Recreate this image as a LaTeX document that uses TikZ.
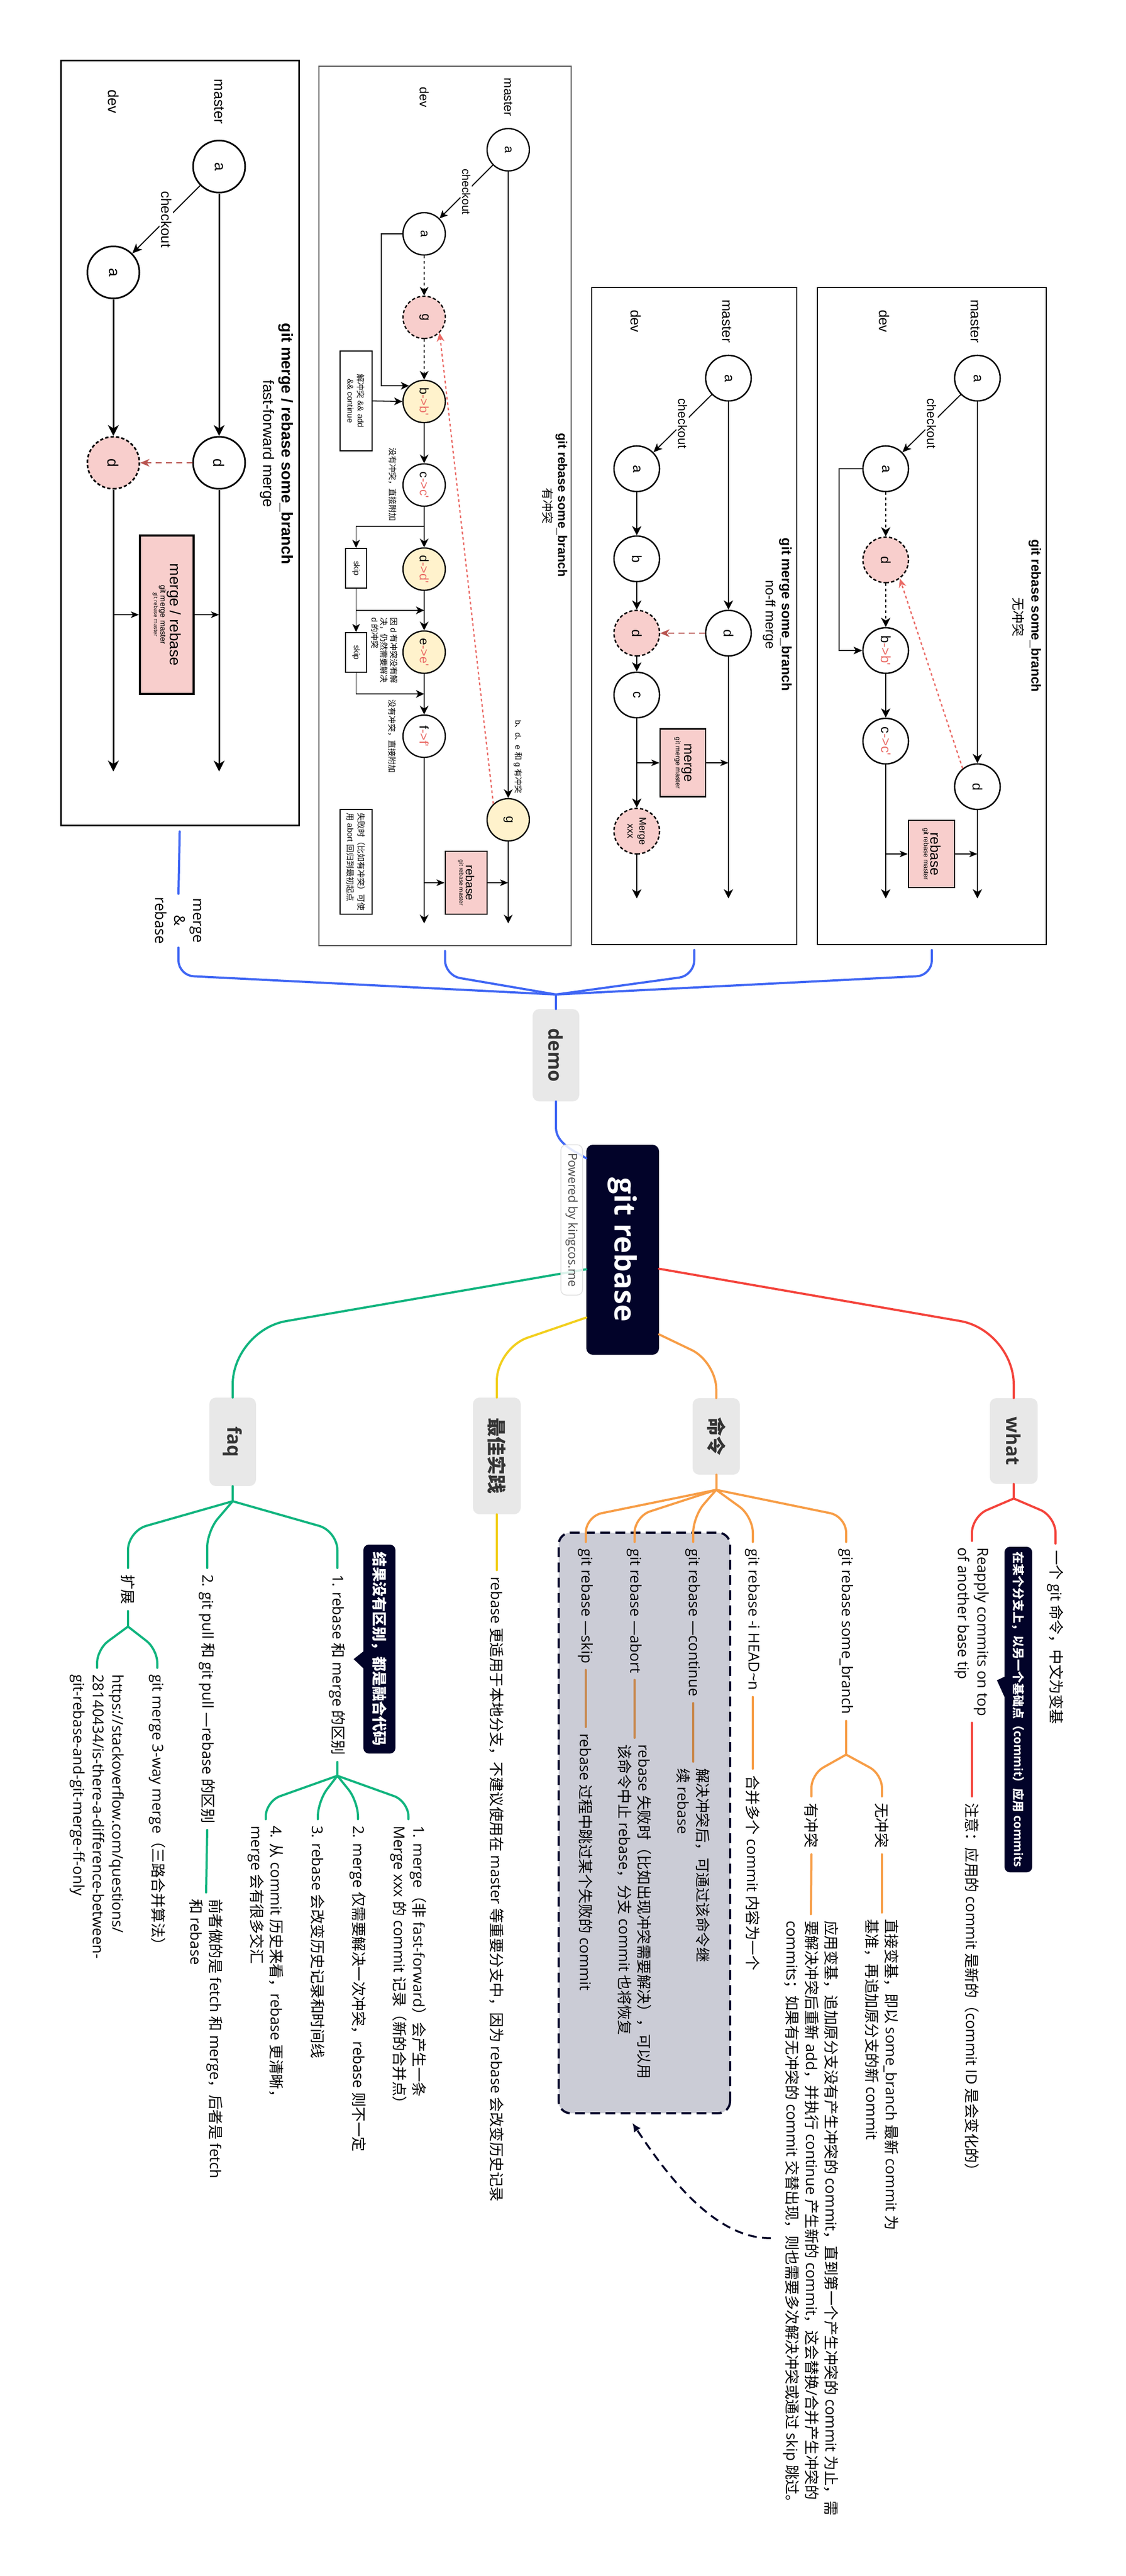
\documentclass[tikz,border=0pt]{standalone}
\usepackage{fontspec}
\setmainfont{Open Sans}
\newfontfamily\arialf{Liberation Sans}
\newfontfamily\cjkf{Noto Sans CJK SC}
\usetikzlibrary{arrows.meta,calc}
\let\curlatin\rmfamily
\newcommand\cjkswitch{\cjkf}
\newcommand\latinswitch{\curlatin}
\newXeTeXintercharclass\cjkcls
\newcount\cjkcnt
\newcommand\setcjkrange[2]{%
  \cjkcnt=#1\relax
  \loop
    \XeTeXcharclass\cjkcnt=\cjkcls\relax
  \ifnum\cjkcnt<#2\relax
    \advance\cjkcnt by 1\relax
  \repeat}
\setcjkrange{"3000}{"303F}
\setcjkrange{"4E00}{"9FFF}
\setcjkrange{"FF00}{"FFEF}
\XeTeXinterchartoks 0 \cjkcls = {\cjkswitch}
\XeTeXinterchartoks 4095 \cjkcls = {\cjkswitch}
\XeTeXinterchartoks \cjkcls 0 = {\latinswitch}
\XeTeXinterchartoks \cjkcls 4095 = {\latinswitch}
\XeTeXinterchartokenstate=1
\newcommand\afs[2]{\let\curlatin\arialf\arialf\fontsize{#1}{#2}\selectfont}
\newcommand\mfs[2]{\fontsize{#1}{#2}\selectfont}
\definecolor{mmblue}{HTML}{3F66F4}
\definecolor{mmred}{HTML}{F4433B}
\definecolor{mmorange}{HTML}{F79D46}
\definecolor{mmyellow}{HTML}{F2CF1D}
\definecolor{mmgreen}{HTML}{10B47E}
\definecolor{navy}{HTML}{020329}
\definecolor{ngray}{HTML}{E8E8E8}
\definecolor{tgray}{HTML}{333333}
\definecolor{bfill}{HTML}{CBCCD6}
\definecolor{brownl}{HTML}{C8874B}
\definecolor{pinkf}{HTML}{F8CECC}
\definecolor{yelf}{HTML}{FFF2CC}
\definecolor{darkred}{HTML}{B85450}
\definecolor{lred}{HTML}{EA6B66}
\definecolor{fgray}{HTML}{5A5A5A}
\tikzset{
  mml/.style={line width=4pt, line cap=round, line join=round},
  bnode/.style={fill=ngray, rounded corners=12pt, text=tgray, inner sep=0pt, font={\bfseries\mfs{35}{40}}},
  rootnode/.style={fill=navy, rounded corners=12pt, text=white, inner sep=0pt, font={\bfseries\mfs{54}{60}}},
  mt/.style={anchor=west, align=left, inner xsep=12pt, inner ysep=3pt, font={\mfs{27.5}{36}}},
  callbox/.style={fill=navy, text=white, rounded corners=10pt, inner sep=0pt},
  frame1/.style={draw=black, line width=3pt, inner sep=0pt},
  frame2/.style={draw=fgray, line width=2pt, inner sep=0pt},
  frame3/.style={draw=black, line width=2.2pt, inner sep=0pt},
  c1/.style={circle, draw, line width=3pt, minimum size=96pt, inner sep=0pt, fill=white, font={\afs{28}{32}}},
  c2/.style={circle, draw, line width=2.4pt, minimum size=78pt, inner sep=0pt, fill=white, font={\afs{23}{27}}},
  c3/.style={circle, draw, line width=2.6pt, minimum size=84pt, inner sep=0pt, fill=white, font={\afs{25}{29}}},
  pinkd/.style={fill=pinkf, dash pattern=on 6pt off 4pt},
  yel/.style={fill=yelf},
  a1/.style={line width=3pt, -{Stealth[length=20pt,width=20pt,inset=6pt]}},
  a1c/.style={line width=2pt, -{Stealth[length=18pt,width=16pt,inset=5pt]}},
  a2/.style={line width=2.4pt, -{Stealth[length=16pt,width=16pt,inset=5pt]}},
  a2c/.style={line width=1.8pt, -{Stealth[length=15pt,width=14pt,inset=4pt]}},
  a3/.style={line width=2.6pt, -{Stealth[length=17pt,width=17pt,inset=5pt]}},
  a3c/.style={line width=1.9pt, -{Stealth[length=16pt,width=14pt,inset=4pt]}},
  asm/.style={line width=1.6pt, -{Stealth[length=15pt,width=12pt,inset=4pt]}},
  dotln/.style={dash pattern=on 5pt off 5pt},
  rd1/.style={draw=darkred, line width=2pt, dash pattern=on 11pt off 8pt, -{Stealth[length=17pt,width=14pt,inset=5pt]}},
  rd2/.style={draw=lred, line width=2.4pt, dash pattern=on 5pt off 5pt, -{Stealth[length=16pt,width=14pt,inset=5pt]}},
  lblw/.style={fill=white, inner sep=3pt},
  sbox/.style={draw, line width=2pt, fill=white, inner sep=0pt},
  mbox/.style={draw, fill=pinkf, inner sep=0pt, align=center},
}
\begin{document}
\begin{tikzpicture}[x=1pt,y=1pt]
\begin{scope}[rotate=-90, transform shape]
\fill[white] (0,0) rectangle (4748,2076);
\useasboundingbox (0,0) rectangle (4748,2076);

%%%%%%%%%%%%%%%% BOX 1 : fast-forward
\node[frame1, minimum width=1409pt, minimum height=439pt] (F1) at (816.5,331.5) {};
\node[font={\afs{27}{30}}] (L1m) at (187,404) {master};
\node[font={\afs{27}{30}}] (L1d) at (187,209) {dev};
\node[c1] (A1m) at (307,404) {a};
\node[c1] (A1d) at (502,209) {a};
\node[c1] (D1m) at (853,404) {d};
\node[c1, pinkd] (D1d) at (853,209) {d};
\coordinate (E1m) at (1422,404);
\coordinate (E1d) at (1422,209);
\node[mbox, line width=3.5pt, minimum width=292pt, minimum height=99pt] (MB1) at (1133,307.5)
  {\afs{28}{31}merge / rebase\\\afs{14.5}{19}git merge master\\git rebase master};
\coordinate (J1d) at (1133,209);
\coordinate (J1m) at (1133,404);
\node[font={\bfseries\afs{29}{33}}] (T1) at (818,527) {git merge / rebase some\_branch};
\node[font={\afs{28}{32}}] (S1) at (818,493) {fast-forward merge};
\draw[a1c] (A1m) -- node[lblw, font={\afs{26}{30}}] {checkout} (A1d);
\draw[a1] (A1m) -- (D1m);
\draw[a1] (A1d) -- (D1d);
\draw[a1] (D1m) -- (E1m);
\draw[a1] (D1d) -- (E1d);
\draw[rd1] (D1m) -- (D1d);
\draw[asm] (J1d) -- (MB1.south);
\draw[asm] (MB1.north) -- (J1m);

%%%%%%%%%%%%%%%% BOX 2 : rebase with conflicts
\node[frame2, minimum width=1621pt, minimum height=465pt] (F2) at (932.5,820.5) {};
\node[font={\afs{23}{27}}] (L2m) at (179,937) {master};
\node[font={\afs{23}{27}}] (L2d) at (179,782) {dev};
\node[c2] (A2m) at (276,937) {a};
\node[c2] (A2d) at (431,782) {a};
\node[c2, pinkd] (G2) at (585,782) {g};
\node[c2, yel] (B2) at (740,782) {b\textcolor{lred}{->b'}};
\node[c2] (C2) at (894,782) {c\textcolor{lred}{->c'}};
\node[c2, yel] (D2) at (1049,782) {d\textcolor{lred}{->d'}};
\node[c2, yel] (E2) at (1202,782) {e\textcolor{lred}{->e'}};
\node[c2] (FF2) at (1357,782) {f\textcolor{lred}{->f'}};
\node[c2, yel] (G2m) at (1511,937) {g};
\coordinate (E2d) at (1702,782);
\coordinate (E2m) at (1702,937);
\node[sbox, minimum width=184pt, minimum height=59pt, align=center, font={\afs{15}{19}}] (RS2) at (739,656.5) {解冲突 \&\& add\\\&\& continue};
\node[sbox, minimum width=73pt, minimum height=39pt, font={\afs{15}{18}}] (SK1) at (1047.5,656.5) {skip};
\node[sbox, minimum width=73pt, minimum height=39pt, font={\afs{15}{18}}] (SK2) at (1202.5,656.5) {skip};
\node[sbox, minimum width=193pt, minimum height=59pt, align=left, font={\afs{15}{20}}] (AB2) at (1588.5,656.5) {失败时（比如有冲突）可使\\用 abort 回归到最初起点};
\node[mbox, line width=2.6pt, minimum width=116pt, minimum height=77pt] (RB2) at (1627,859.5)
  {\afs{21.5}{26}rebase\\\afs{11}{14}git rebase master};
\node[font={\afs{15}{18}}] (N21) at (893,724) {没有冲突，直接附加};
\node[font={\afs{15}{18}}] (N22) at (1357,723) {没有冲突，直接附加};
\node[anchor=north west, align=left, inner sep=0pt, font={\afs{15}{17.5}}] (N23) at (1138,733) {因 d 有冲突没有解\\决，仍然需要解决\\d 的冲突};
\node[font={\afs{15}{18}}] (N24) at (1395,955) {b、d、e 和 g 有冲突};
\node[font={\bfseries\afs{23}{27}}] (T2) at (931,1035) {git rebase some\_branch};
\node[font={\afs{22}{26}}] (S2) at (932,1010) {有冲突};
\coordinate (BR2) at (970,782);
\coordinate (M21) at (1125,782);
\coordinate (M22) at (1279,782);
\coordinate (J2d) at (1627,782);
\coordinate (J2m) at (1627,937);
\draw[a2c] (A2m) -- node[lblw, font={\afs{21}{25}}] {checkout} (A2d);
\draw[a2, dotln] (A2d) -- (G2);
\draw[a2, dotln] (G2) -- (B2);
\draw[a2] (B2) -- (C2);
\draw[a2] (C2) -- (D2);
\draw[a2] (D2) -- (E2);
\draw[a2] (E2) -- (FF2);
\draw[a2] (FF2) -- (E2d);
\draw[a2] (A2m) -- (G2m);
\draw[a2] (G2m) -- (E2m);
\draw[a2c] (A2d.south) -- ++(0,-39) -| (B2.224);
\draw[a2c] (RS2.north) -- (B2.south);
\draw[a2c] (BR2) |- (SK1.west);
\draw[a2c] (SK1.east) -- (SK2.west);
\draw[a2c] (SK1.east) -| (M21);
\draw[a2c] (SK2.east) -| (M22);
\draw[rd2] (G2m.223) -- (G2.45);
\draw[asm] (J2d) -- (RB2.south);
\draw[asm] (RB2.north) -- (J2m);

%%%%%%%%%%%%%%%% BOX 3 : no-ff merge
\node[frame3, minimum width=1211pt, minimum height=378pt] (F3) at (1135.5,1280) {};
\node[font={\afs{26}{30}}] (L3m) at (592,1340) {master};
\node[font={\afs{26}{30}}] (L3d) at (592,1172) {dev};
\node[c3] (A3m) at (697,1343) {a};
\node[c3] (A3d) at (864,1174) {a};
\node[c3] (B3) at (1030,1174) {b};
\node[c3, pinkd] (D3d) at (1167,1174) {d};
\node[c3] (C3) at (1281,1174) {c};
\node[c3] (D3m) at (1167,1343) {d};
\node[c3, pinkd, align=center, font={\afs{18}{22}}] (X3) at (1532,1174) {Merge\\xxx};
\coordinate (E3d) at (1656,1174);
\coordinate (E3m) at (1656,1343);
\node[mbox, line width=2.6pt, minimum width=125pt, minimum height=84pt] (MG3) at (1406,1259)
  {\afs{25}{29}merge\\\afs{12.6}{16}git merge master};
\coordinate (J3d) at (1406,1174);
\coordinate (J3m) at (1406,1343);
\node[font={\bfseries\afs{25}{29}}] (T3) at (1133,1448) {git merge some\_branch};
\node[font={\afs{25}{29}}] (S3) at (1133,1418) {no-ff merge};
\draw[a3c] (A3m) -- node[lblw, font={\afs{23}{27}}] {checkout} (A3d);
\draw[a3] (A3d) -- (B3);
\draw[a3] (B3) -- (D3d);
\draw[a3] (D3d) -- (C3);
\draw[a3] (C3) -- (X3);
\draw[a3] (X3) -- (E3d);
\draw[a3] (A3m) -- (D3m);
\draw[a3] (D3m) -- (E3m);
\draw[rd1] (D3m) -- (D3d);
\draw[asm] (J3d) -- (MG3.south);
\draw[asm] (MG3.north) -- (J3m);

%%%%%%%%%%%%%%%% BOX 4 : rebase no conflict
\node[frame3, minimum width=1211pt, minimum height=422pt] (F4) at (1135.5,1718) {};
\node[font={\afs{26}{30}}] (L4m) at (592,1798) {master};
\node[font={\afs{26}{30}}] (L4d) at (592,1630) {dev};
\node[c3] (A4m) at (697,1802) {a};
\node[c3] (A4d) at (864,1633) {a};
\node[c3, pinkd] (D4) at (1032,1633) {d};
\node[c3] (B4) at (1199,1633) {b\textcolor{lred}{->b'}};
\node[c3] (C4) at (1366,1633) {c\textcolor{lred}{->c'}};
\node[c3] (D4m) at (1450,1802) {d};
\coordinate (E4d) at (1656,1633);
\coordinate (E4m) at (1656,1802);
\node[mbox, line width=2.6pt, minimum width=124pt, minimum height=85pt] (RB4) at (1574,1717.5)
  {\afs{26}{30}rebase\\\afs{12.4}{16}git rebase master};
\coordinate (J4d) at (1574,1633);
\coordinate (J4m) at (1574,1802);
\node[font={\bfseries\afs{24.5}{28}}] (T4) at (1135,1908) {git rebase some\_branch};
\node[font={\afs{24}{28}}] (S4) at (1137,1878) {无冲突};
\draw[a3c] (A4m) -- node[lblw, font={\afs{23}{27}}] {checkout} (A4d);
\draw[a3, dotln] (A4d) -- (D4);
\draw[a3, dotln] (D4) -- (B4);
\draw[a3] (B4) -- (C4);
\draw[a3] (C4) -- (E4d);
\draw[a3] (A4m) -- (D4m);
\draw[a3] (D4m) -- (E4m);
\draw[a3c] (A4d.south) -- ++(0,-43) -| (B4.south);
\draw[rd2] (D4m.219) -- (D4.37);
\draw[asm] (J4d) -- (RB4.south);
\draw[asm] (RB4.north) -- (J4m);

%%%%%%%%%%%%%%%% MIND MAP NODES
\node[draw=navy, fill=bfill, line width=4pt, dash pattern=on 18pt off 10pt, rounded corners=22pt, minimum width=1070pt, minimum height=316pt, inner sep=0pt] (KB) at (3360,1188) {};
\node[bnode, minimum width=170pt, minimum height=86pt] (demo) at (1945,1025) {demo};
\node[rootnode, minimum width=387pt, minimum height=134pt] (root) at (2303.5,1148) {git rebase};
\node[bnode, minimum width=158pt, minimum height=88pt] (what) at (2656,1869) {what};
\node[bnode, minimum width=141pt, minimum height=87pt] (cmd) at (2647.5,1320.5) {命令};
\node[bnode, minimum width=215pt, minimum height=88pt] (bp) at (2683.5,916) {最佳实践};
\node[bnode, minimum width=163pt, minimum height=86pt] (faq) at (2657.5,429) {faq};
\node[align=center, inner sep=6pt, font={\mfs{27.5}{35}}] (mr) at (1697,329) {merge\\\&\\rebase};

% what
\node[mt] (wt1) at (2845,1946) {一个 git 命令，中文为变基};
\node[mt] (wt2) at (2840,1792) {Reapply commits on top\\of another base tip};
\node[mt] (wt3) at (3311,1792) {注意：应用的 commit 是新的（commit ID 是会变化的）};
\node[callbox, minimum width=600pt, minimum height=51pt, font={\bfseries\mfs{22}{26}}] (cw) at (3151,1877.5) {在某个分支上，以另一个基础点（commit）应用 commits};
\fill[navy] (3090,1853) -- (3097,1838) -- (3130,1853) -- cycle;

% commands
\node[mt] (k1) at (2842,1560) {git rebase some\_branch};
\node[mt] (k2) at (2842,1388) {git rebase -i HEAD\textasciitilde n};
\node[mt] (k3) at (2842,1278) {git rebase —continue};
\node[mt] (k4) at (2842,1170) {git rebase —abort};
\node[mt] (k5) at (2842,1080) {git rebase —skip};
\node[mt] (k2a) at (3260,1388) {合并多个 commit 内容为一个};
\node[mt] (k3a) at (3247,1278) {解决冲突后，可通过该命令继\\续 rebase};
\node[mt] (k4a) at (3203,1170) {rebase 失败时（比如出现冲突需要解决），可以用\\该命令中止 rebase，分支 commit 也将恢复};
\node[mt] (k5a) at (3183,1080) {rebase 过程中跳过某个失败的 commit};
\node[mt] (k1a) at (3311,1626) {无冲突};
\node[mt] (k1b) at (3311,1496) {有冲突};
\node[mt] (k1a1) at (3525,1626) {直接变基，即以 some\_branch 最新 commit 为\\基准，再追加原分支的新 commit};
\node[mt] (k1b1) at (3528,1495) {应用变基，追加原分支没有产生冲突的 commit，直到第一个产生冲突的 commit 为止，需\\要解决冲突后重新 add，并执行 continue 产生新的 commit，这会替换/合并产生冲突的\\commits；如果有无冲突的 commit 交替出现，则也需要多次解决冲突或通过 skip 跳过。};

% best practice
\node[mt] (b1) at (2894,916) {rebase 更适用于本地分支，不建议使用在 master 等重要分支中，因为 rebase 会改变历史记录};

% faq
\node[mt] (q1) at (2890,622) {1. rebase 和 merge 的区别};
\node[mt] (q2) at (2890,382) {2. git pull 和 git pull —rebase 的区别};
\node[mt] (q3) at (2890,236) {扩展};
\node[mt] (q1a) at (3353,753) {1. merge（非 fast-forward）会产生一条\\Merge xxx 的 commit 记录（新的合并点）};
\node[mt] (q1b) at (3353,660) {2. merge 仅需要解决一次冲突，rebase 则不一定};
\node[mt] (q1c) at (3353,586) {3. rebase 会改变历史记录和时间线};
\node[mt] (q1d) at (3353,490) {4. 从 commit 历史来看，rebase 更清晰，\\merge 会有很多交汇};
\node[mt] (q2a) at (3488,380) {前者做的是 fetch 和 merge，后者是 fetch\\和 rebase};
\node[mt] (q3a) at (3074,290) {git merge 3-way merge（三路合并算法）};
\node[mt] (q3b) at (3074,179) {https://stackoverflow.com/questions/\\28140434/is-there-a-difference-between-\\git-rebase-and-git-merge-ff-only};
\node[callbox, minimum width=385pt, minimum height=59pt, font={\bfseries\mfs{27.5}{32}}] (qc) at (3039.5,699.5) {结果没有区别，都是融合代码};
\fill[navy] (3043,671) -- (3058,652) -- (3076,671) -- cycle;

%%%%%%%%%%%%%%%% MIND MAP CONNECTORS
\coordinate (cv) at (1833,1025);
\draw[mml, mmblue] (demo.west) -- (cv);
\draw[mml, mmblue, rounded corners=28pt] (cv) -- (1798,329) -- (mr.east);
\draw[mml, mmblue, shorten >=10pt] (mr.west) -- (F1.east);
\draw[mml, mmblue, rounded corners=28pt, shorten >=9pt] (cv) -- (1798,820.5) -- (F2.east);
\draw[mml, mmblue, rounded corners=28pt, shorten >=9pt] (cv) -- (1798,1280) -- (F3.east);
\draw[mml, mmblue, rounded corners=28pt, shorten >=9pt] (cv) -- (1798,1718) -- (F4.east);
\draw[mml, mmblue] (demo.east) -- (2078,1025) .. controls (2108,1025) and (2122,1060) .. ($(root.south west)+(25,0)$);

\draw[mml, mmred, rounded corners=100pt] ($(root.north)+(35,0)$) -- (2452,1869) -- (what.west);
\draw[mml, mmorange, rounded corners=50pt] ($(root.north)+(156,0)$) -- (2510,1320.5) -- (cmd.west);
\draw[mml, mmyellow, rounded corners=60pt] ($(root.south)+(125,0)$) -- (2485,916) -- (bp.west);
\draw[mml, mmgreen, rounded corners=100pt] ($(root.south)+(36,0)$) -- (2452,429) -- (faq.west);

% what
\draw[mml, mmred] (what.east) -- (2762,1869) coordinate (wf);
\draw[mml, mmred, rounded corners=30pt] (wf) -- (2795,1946) -- (wt1.west);
\draw[mml, mmred, rounded corners=30pt] (wf) -- (2795,1792) -- (wt2.west);
\draw[mml, mmred] (wt2.east) -- (wt3.west);

% commands
\draw[mml, mmorange] (cmd.east) -- (2746,1320.5) coordinate (kf);
\foreach \n/\yy in {k1/1560,k2/1388,k3/1278,k4/1170,k5/1080}
  \draw[mml, mmorange, rounded corners=30pt] (kf) -- (2795,\yy) -- (\n.west);
\draw[mml, mmorange] (k2.east) -- (k2a.west);
\draw[mml, brownl] (k3.east) -- (k3a.west);
\draw[mml, brownl] (k4.east) -- (k4a.west);
\draw[mml, brownl] (k5.east) -- (k5a.west);
\draw[mml, mmorange] (k1.east) -- (3234,1560) coordinate (kf1);
\draw[mml, mmorange, rounded corners=25pt] (kf1) -- (3270,1626) -- (k1a.west);
\draw[mml, mmorange, rounded corners=25pt] (kf1) -- (3270,1496) -- (k1b.west);
\draw[mml, mmorange] (k1a.east) -- (k1a1.west);
\draw[mml, mmorange] (k1b.east) -- (k1b1.west);

% best practice
\draw[mml, mmyellow] (bp.east) -- (b1.west);

% faq
\draw[mml, mmgreen] (faq.east) -- (2767,429) coordinate (qf);
\draw[mml, mmgreen, rounded corners=35pt] (qf) -- (2822,236) -- (q3.west);
\draw[mml, mmgreen, rounded corners=30pt] (qf) -- (2822,382) -- (q2.west);
\draw[mml, mmgreen, rounded corners=35pt] (qf) -- (2822,622) -- (q1.west);
\draw[mml, mmgreen] (q3.east) -- (2998,236) coordinate (q3f);
\draw[mml, mmgreen, rounded corners=25pt] (q3f) -- (3040,290) -- (q3a.west);
\draw[mml, mmgreen, rounded corners=25pt] (q3f) -- (3040,179) -- (q3b.west);
\draw[mml, mmgreen] (q2.east) -- (q2a.west);
\draw[mml, mmgreen] (q1.east) -- (3273,622) coordinate (q1f);
\foreach \n/\yy in {q1a/753,q1b/660,q1c/586,q1d/490}
  \draw[mml, mmgreen, rounded corners=28pt] (q1f) -- (3320,\yy) -- (\n.west);

% relationship arrow
\coordinate (rs) at (4125,1421);
\coordinate (re) at (3913,1166);
\draw[navy, line width=3.5pt, dash pattern=on 16pt off 10pt, -{Latex[length=16pt,width=15pt]}] (rs) .. controls (4128,1311) and (3988,1216) .. (re);

% powered label
\node[fill=white, fill opacity=0.85, text opacity=1, draw=black!12, line width=1.5pt, rounded corners=10pt, minimum width=277pt, minimum height=40pt, inner sep=0pt, text=black!70, font={\mfs{22.5}{26}}] (pw) at (2248.5,1054) {Powered by kingcos.me};
\end{scope}
\end{tikzpicture}
\end{document}
